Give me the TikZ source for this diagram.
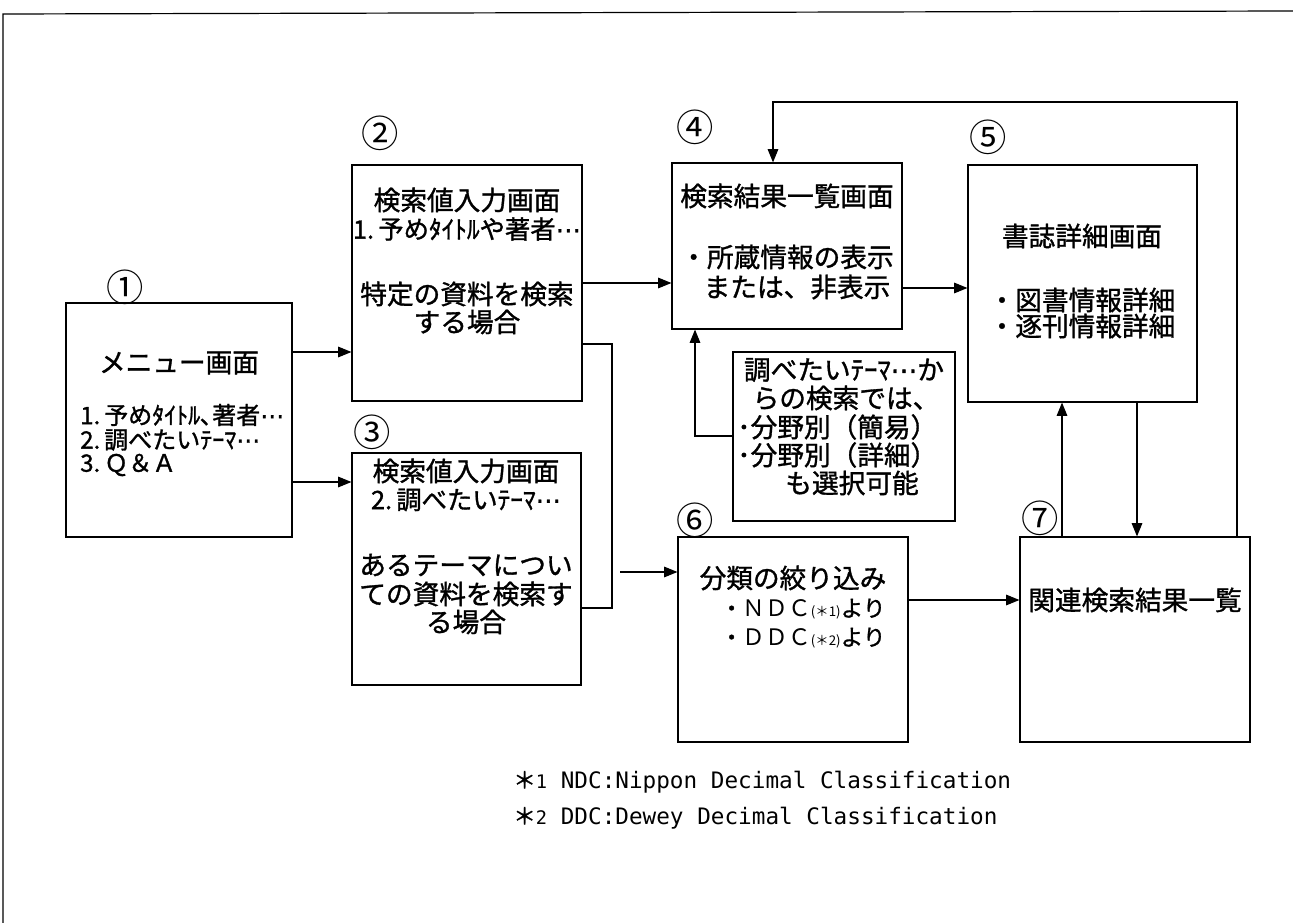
\documentclass[tikz,border=0pt]{standalone}
\usepackage{fontspec}
\setmainfont{Noto Sans CJK JP}
\newfontfamily\jpfont[FakeBold=1.2]{Noto Sans CJK JP}
\newfontfamily\numfont{Noto Sans CJK JP}
\newfontfamily\dvfont[FakeBold=1.2]{DejaVu Sans}
\newfontfamily\monofont{DejaVu Sans Mono}
\newcommand{\mydots}{{\dvfont ⋯}}
\usetikzlibrary{arrows.meta,fit}
\tikzset{
  box/.style={draw, line width=0.9pt, inner sep=0pt},
  conn/.style={line width=0.8pt},
  arr/.style={conn, -{Triangle[length=10pt,width=8pt]}},
  txt/.style={inner sep=0pt, font=\jpfont\fontsize{20pt}{22pt}\selectfont},
  mid/.style={inner sep=0pt, font=\jpfont\fontsize{19pt}{22pt}\selectfont},
  sml/.style={inner sep=0pt, anchor=west, font=\jpfont\fontsize{17pt}{22pt}\selectfont},
  lst/.style={inner sep=0pt, anchor=west, font=\jpfont\fontsize{18pt}{22pt}\selectfont},
  num/.style={inner sep=0pt, font=\numfont\fontsize{28pt}{30pt}\selectfont},
  foot/.style={inner sep=0pt, anchor=west, font=\monofont\fontsize{17pt}{20pt}\selectfont}
}
\begin{document}
\begin{tikzpicture}[x=0.75pt,y=-0.75pt]
\useasboundingbox (0,0) rectangle (1293,923);
\draw[line width=0.9pt] (3,923) -- (3,14) -- (1293,11);

% boxes
\node[box, fit={(66,303) (292,537)}] (b1) {};
\node[box, fit={(352,165) (582,401)}] (b2) {};
\node[box, fit={(352,453) (581,685)}] (b3) {};
\node[box, fit={(672,163) (902,329)}] (b4) {};
\node[box, fit={(733,352) (955,521)}] (note) {};
\node[box, fit={(968,165) (1197,402)}] (b5) {};
\node[box, fit={(678,537) (908,742)}] (b6) {};
\node[box, fit={(1020,537) (1250,742)}] (b7) {};

% circled numbers
\node[num] (n1) at (125,287) {①};
\node[num] (n2) at (380,133) {②};
\node[num] (n3) at (372,432) {③};
\node[num] (n4) at (695,127) {④};
\node[num] (n5) at (988,137) {⑤};
\node[num] (n6) at (695,520) {⑥};
\node[num] (n7) at (1040,518) {⑦};

% box 1
\node[txt] (t1a) at (179,363) {メニュー画面};
\node[lst] (t1b) at (80,415) {1.\,予めﾀｲﾄﾙ､著者\mydots};
\node[lst] (t1c) at (80,440) {2.\,調べたいﾃｰﾏ\mydots};
\node[lst] (t1d) at (80,465) {3.\,Ｑ＆Ａ};

% box 2
\node[txt] (t2a) at (467,200) {検索値入力画面};
\node[mid] (t2b) at (467,229) {1.\,予めﾀｲﾄﾙや著者\mydots};
\node[txt] (t2c) at (467,294) {特定の資料を検索};
\node[txt] (t2d) at (467,322) {する場合};

% box 3
\node[txt] (t3a) at (466,471) {検索値入力画面};
\node[mid] (t3b) at (466,500) {2.\,調べたいﾃｰﾏ\mydots};
\node[txt] (t3c) at (466,565) {あるテーマについ};
\node[txt] (t3d) at (466,594) {ての資料を検索す};
\node[txt] (t3e) at (466,622) {る場合};

% box 4
\node[txt] (t4a) at (787,196) {検索結果一覧画面};
\node[txt] (t4b) at (787,257) {・所蔵情報の表示};
\node[txt] (t4c) at (797,287) {または、非表示};

% note
\node[txt] (tna) at (844,370) {調べたいﾃｰﾏ\mydots か};
\node[txt] (tnb) at (846,398) {らの検索では、};
\node[txt, anchor=west] (tnc) at (737,427) {･分野別（簡易）};
\node[txt, anchor=west] (tnd) at (737,455) {･分野別（詳細）};
\node[txt] (tne) at (852,483) {も選択可能};

% box 5
\node[txt] (t5a) at (1082,236) {書誌詳細画面};
\node[txt] (t5b) at (1082,300) {・図書情報詳細};
\node[txt] (t5c) at (1082,326) {・逐刊情報詳細};

% box 6
\node[txt] (t6a) at (793,578) {分類の絞り込み};
\node[sml] (t6b) at (720,609) {・{\numfont ＮＤＣ}{\numfont\fontsize{10pt}{12pt}\selectfont(＊1)}より};
\node[sml] (t6c) at (720,638) {・{\numfont ＤＤＣ}{\numfont\fontsize{10pt}{12pt}\selectfont(＊2)}より};

% box 7
\node[txt] (t7a) at (1135,600) {関連検索結果一覧};

% footnotes
\node[foot] (f1) at (513,782) {{\jpfont ＊}{\fontsize{14pt}{14pt}\selectfont 1} NDC:Nippon Decimal Classification};
\node[foot] (f2) at (513,818) {{\jpfont ＊}{\fontsize{14pt}{14pt}\selectfont 2} DDC:Dewey Decimal Classification};

% connectors
\coordinate (jn) at (612,344);
\coordinate (js) at (612,608);
\coordinate (jx) at (620,572);
\coordinate (lt) at (1237,102);

\draw[arr] (b1.east |- 0,352) -- (b2.west |- 0,352);
\draw[arr] (b1.east |- 0,482) -- (b3.west |- 0,482);
\draw[arr] (b2.east |- 0,283) -- (b4.west |- 0,283);
\draw[conn] (b2.east |- jn) -- (jn) -- (js) -- (b3.east |- js);
\draw[arr] (jx) -- (b6.west |- jx);
\draw[arr] (b4.east |- 0,288) -- (b5.west |- 0,288);
\draw[arr] (note.west |- 0,436) -| (b4.south -| 695,0);
\draw[arr] (b7.north -| lt) -- (lt) -| (b4.north -| 773,0);
\draw[arr] (b7.north -| 1062,0) -- (b5.south -| 1062,0);
\draw[arr] (b5.south -| 1137,0) -- (b7.north -| 1137,0);
\draw[arr] (b6.east |- 0,600) -- (b7.west |- 0,600);
\end{tikzpicture}
\end{document}
